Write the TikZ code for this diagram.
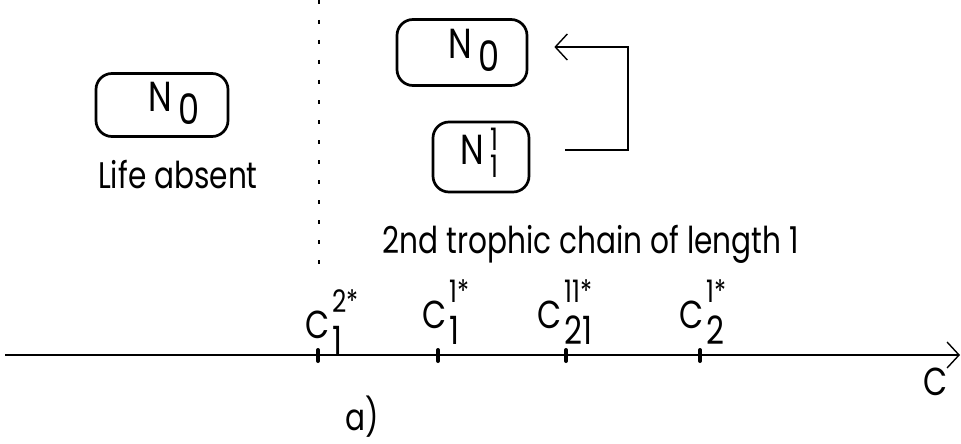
\documentclass[tikz,border=0pt]{standalone}
\usepackage{fontspec}
\setmainfont{Poppins}[FakeStretch=0.8]
\usetikzlibrary{arrows.meta}
\newcommand\bodyfont{\fontsize{37}{40}\selectfont}
\newcommand\boxfont{\fontsize{42}{44}\selectfont}
\newcommand\boxsupfont{\fontsize{31}{34}\selectfont}
\newcommand\labfont{\fontsize{39}{42}\selectfont}
\newcommand\supfont{\fontsize{31}{34}\selectfont}
\newcommand\clab[3]{C\kern3pt\rlap{\raisebox{-16pt}{#2}}\raisebox{26pt}{\supfont #3}}
\begin{document}
\begin{tikzpicture}[x=1pt,y=-1pt,
  box/.style={draw,line width=2.7pt,rounded corners=16pt,inner sep=0pt},
  txt/.style={font=\bodyfont,inner sep=0pt},
  boxtxt/.style={font=\boxfont,inner sep=0pt,anchor=base west},
  lab/.style={font=\labfont,inner sep=0pt,anchor=base west},
  tick/.style={line width=4pt,line cap=round},
  conn/.style={line width=1.4pt},
  barb/.style={-{Straight Barb[length=12pt,width=26pt,line width=1.4pt]}}]
\useasboundingbox (0,0) rectangle (961,444);
% dashed separator
\coordinate (dtop) at (319,0);
\coordinate (dbot) at (319,279);
\draw[line width=1.6pt,dash pattern=on 4pt off 16pt] (dtop) -- (dbot);
% left box
\node[box,minimum width=132pt,minimum height=63pt] (nl) at (162,105) {};
\node[boxtxt] (nlt) at (148,111) {N\kern7pt\raisebox{-13pt}{0}};
\node[txt,anchor=base] (life) at (178,188) {Life absent};
% right boxes
\node[box,minimum width=130pt,minimum height=66pt] (na) at (462,52.5) {};
\node[boxtxt] (nat) at (448,59) {N\kern7pt\raisebox{-13pt}{0}};
\node[box,minimum width=96pt,minimum height=70pt] (nb) at (481,157) {};
\node[boxtxt] (nbt) at (460,164) {N\kern7pt\rlap{\boxsupfont\raisebox{-13pt}{1}}\raisebox{14pt}{\boxsupfont 1}};
% connector
\coordinate (cs) at ([xshift=35pt,yshift=7pt]nb.east);
\coordinate (ce) at ([xshift=26pt,yshift=5.5pt]na.east);
\draw[conn,barb] (cs) -| (628,100) |- (ce);
\node[txt,anchor=base] (chain) at (591,253) {2nd trophic chain of length 1};
% axis
\coordinate (ax0) at (5,355);
\coordinate (ax1) at (960,355);
\draw[line width=1.6pt,barb] (ax0) -- (ax1);
\coordinate (t1) at (318,355);
\coordinate (t2) at (438,355);
\coordinate (t3) at (566,355);
\coordinate (t4) at (700,355);
\foreach \t in {t1,t2,t3,t4} \draw[tick] ([yshift=5pt]\t) -- ([yshift=-6pt]\t);
\node[lab] (l1) at (305,338) {\clab{C}{1}{2*}};
\node[lab] (l2) at (422,328) {\clab{C}{1}{1*}};
\node[lab] (l3) at (537,328) {\clab{C}{21}{11*}};
\node[lab] (l4) at (679,328) {\clab{C}{2}{1*}};
\node[lab] (cax) at (923,395) {C};
\node[txt,anchor=base west] (a) at (345,430) {a)};
\end{tikzpicture}
\end{document}
